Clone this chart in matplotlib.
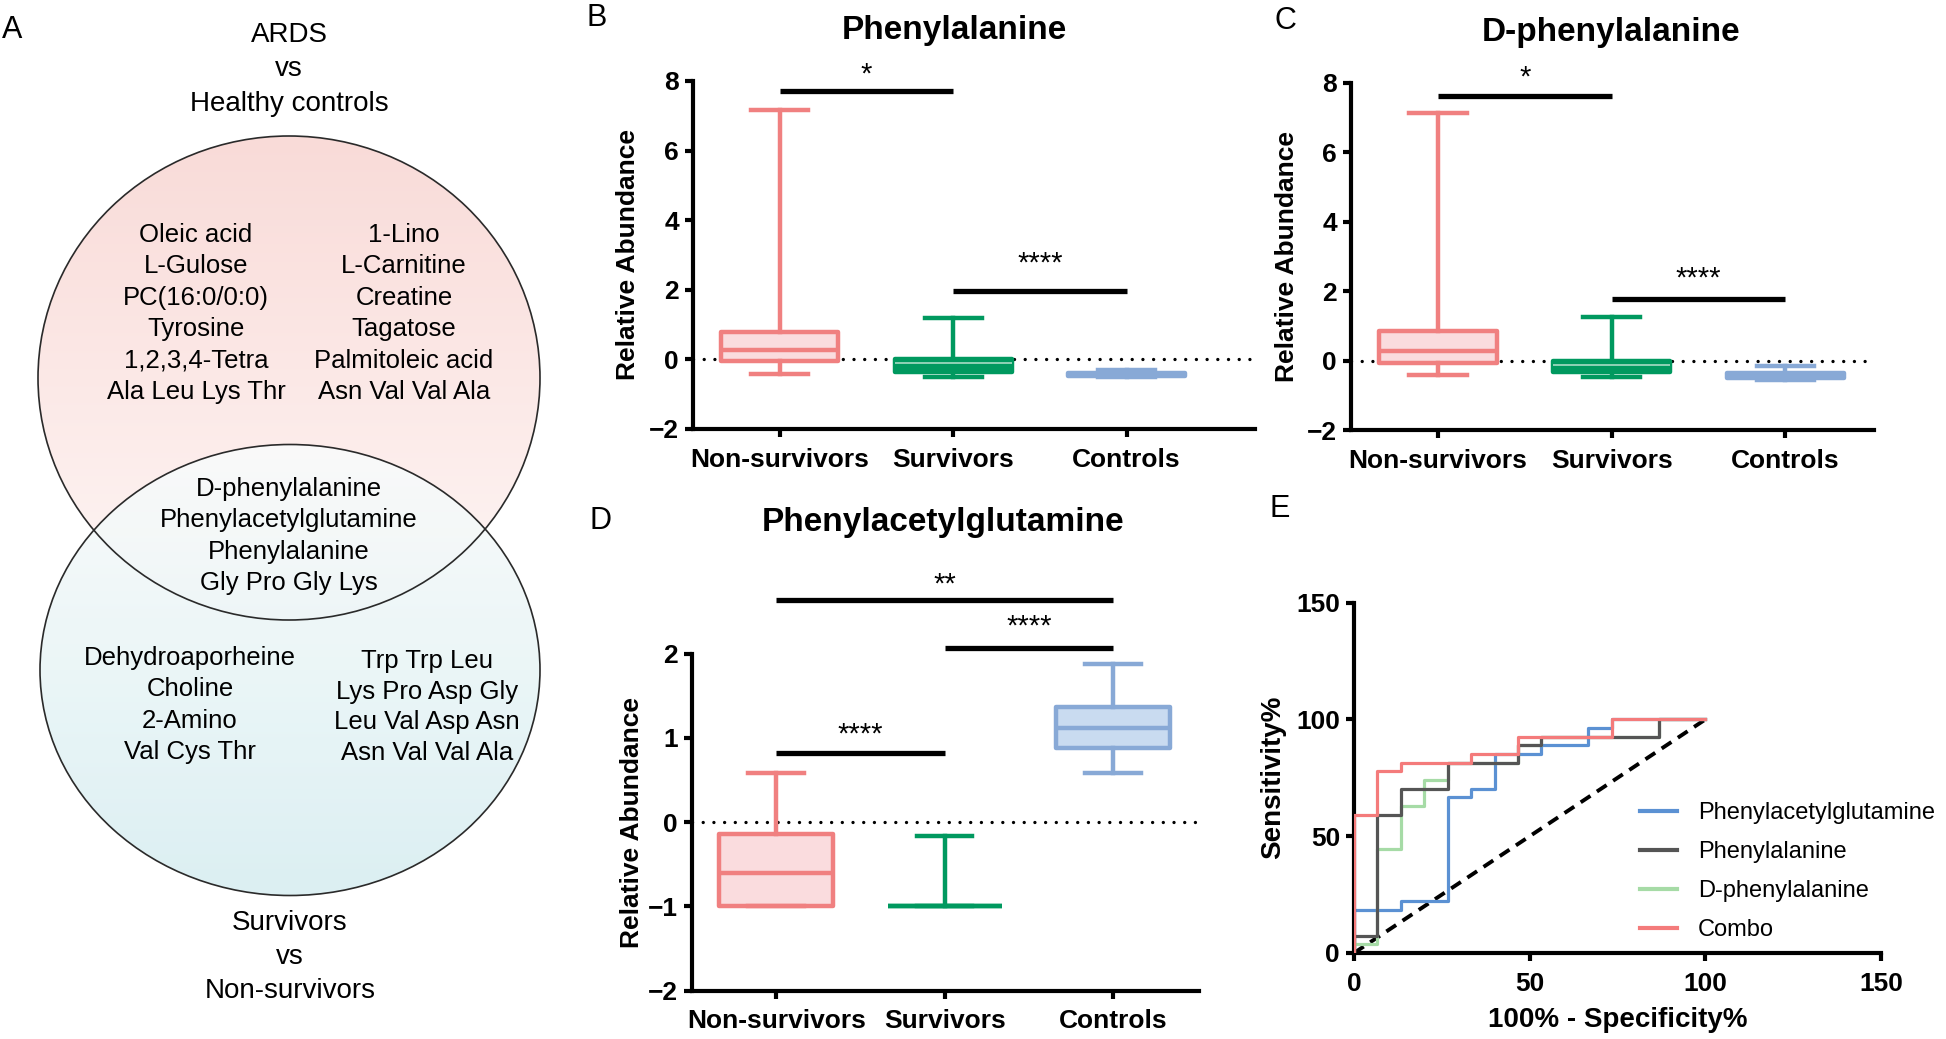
import numpy as np
import matplotlib
matplotlib.use("Agg")
import matplotlib.pyplot as plt
from matplotlib.patches import Ellipse

plt.rcParams['font.family'] = ['Liberation Sans', 'DejaVu Sans']

W, H = 1946, 1039
DPI = 100

# ---------------- data ----------------
groups = ["Non-survivors", "Survivors", "Controls"]

# box stats per group: [whisker low, Q1, median, Q3, whisker high]
phe_nonsurv = [-0.42, -0.06, 0.27, 0.78, 7.17]
phe_surv = [-0.50, -0.36, -0.10, 0.0, 1.18]
phe_ctrl = [-0.52, -0.49, -0.44, -0.38, -0.30]

dphe_nonsurv = [-0.42, -0.07, 0.28, 0.84, 7.13]
dphe_surv = [-0.47, -0.34, -0.14, 0.0, 1.27]
dphe_ctrl = [-0.55, -0.50, -0.44, -0.37, -0.17]

pag_nonsurv = [-1.0, -0.99, -0.60, -0.14, 0.58]
pag_surv = [-1.0, -1.0, -1.0, -1.0, -0.17]
pag_ctrl = [0.58, 0.88, 1.12, 1.36, 1.88]

# significance bars: (group a, group b, bar height, label height, label)
phe_sig = [(0, 1, 7.71, 8.32, "*"), (1, 2, 1.97, 2.9, "****")]
dphe_sig = [(0, 1, 7.63, 8.3, "*"), (1, 2, 1.77, 2.52, "****")]
pag_sig = [(0, 2, 2.64, 2.88, "**"), (1, 2, 2.06, 2.38, "****"), (0, 1, 0.82, 1.1, "****")]

# ROC corner points (100% - specificity %, sensitivity %)
roc_names = ["Phenylacetylglutamine", "Phenylalanine", "D-phenylalanine", "Combo"]
roc_pag_x = [0, 0, 13.33, 26.67, 33.33, 40, 53.33, 66.67, 73.33, 100]
roc_pag_y = [0, 18.5, 22.2, 66.7, 70.4, 85.2, 88.9, 96.3, 100, 100]
roc_phe_x = [0, 0, 6.67, 13.33, 26.67, 46.67, 53.33, 86.67, 100]
roc_phe_y = [0, 7.4, 59.3, 70.4, 81.5, 88.9, 92.6, 100, 100]
roc_dphe_x = [0, 0, 6.67, 13.33, 20, 26.67, 46.67, 53.33, 86.67, 100]
roc_dphe_y = [0, 3.7, 44.4, 63.0, 74.1, 81.5, 88.9, 92.6, 100, 100]
roc_combo_x = [0, 0, 6.67, 13.33, 33.33, 46.67, 73.33, 100]
roc_combo_y = [0, 59.3, 77.8, 81.5, 85.2, 92.6, 100, 100]

# Venn diagram contents
venn_top_title = ["ARDS", "vs", "Healthy controls"]
venn_bottom_title = ["Survivors", "vs", "Non-survivors"]
ards_only_left = ["Oleic acid", "L-Gulose", "PC(16:0/0:0)", "Tyrosine", "1,2,3,4-Tetra", "Ala Leu Lys Thr"]
ards_only_right = ["1-Lino", "L-Carnitine", "Creatine", "Tagatose", "Palmitoleic acid", "Asn Val Val Ala"]
shared = ["D-phenylalanine", "Phenylacetylglutamine", "Phenylalanine", "Gly Pro Gly Lys"]
surv_only_left = ["Dehydroaporheine", "Choline", "2-Amino", "Val Cys Thr"]
surv_only_right = ["Trp Trp Leu", "Lys Pro Asp Gly", "Leu Val Asp Asn", "Asn Val Val Ala"]

# ---------------- style ----------------
EDGE = ["#F08080", "#00995F", "#88A9D6"]
FILL = ["#FADCDE", "#00995F", "#C9DBF0"]
ROC_COLORS = ["#5B91D3", "#555555", "#A6DBA6", "#F47B7B"]
ROC_Z = [2, 4, 3, 5]


def add_ax(left, top, right, bottom):
    # axes placed in pixel coordinates of the full figure
    return fig.add_axes([left / W, 1 - bottom / H, (right - left) / W, (bottom - top) / H])


def ftext(x, y, s, **kw):
    fig.text(x / W, 1 - y / H, s, **kw)


def style_axes(ax):
    for side in ["top", "right"]:
        ax.spines[side].set_visible(False)
    for side in ["left", "bottom"]:
        ax.spines[side].set_linewidth(3)
    ax.tick_params(direction="out", length=6, width=3, labelsize=19, pad=4)
    ax.tick_params(axis="x", pad=7.5)
    for lab in ax.get_xticklabels() + ax.get_yticklabels():
        lab.set_fontweight("bold")


def box_panel(ax, stats_list, sig, xmax, ylim, yticks, light_median=False):
    stats = [dict(whislo=s[0], q1=s[1], med=s[2], q3=s[3], whishi=s[4], label=g)
             for s, g in zip(stats_list, groups)]
    bp = ax.bxp(stats, positions=range(3), widths=0.675, capwidths=0.33,
                showfliers=False, patch_artist=True)
    for i in range(3):
        bp['boxes'][i].set(facecolor=FILL[i], edgecolor=EDGE[i], linewidth=3.2, joinstyle="round")
        bp['medians'][i].set(color=EDGE[i], linewidth=3.2)
        for ln in bp['whiskers'][2 * i:2 * i + 2] + bp['caps'][2 * i:2 * i + 2]:
            ln.set(color=EDGE[i], linewidth=3.2)
    if light_median:
        bp['medians'][1].set(color="#A8DCC4", linewidth=1.2)
    ax.axhline(0, color="black", linestyle=(0, (0.01, 3.2)), linewidth=2.4,
               dash_capstyle="round", zorder=0.5)
    for a, b, y, ty, lab in sig:
        ax.plot([a, b], [y, y], color="black", linewidth=3.8, solid_capstyle="butt", clip_on=False)
        # asterisk glyph centre sits ~13 px above the baseline
        ax.annotate(lab, xy=((a + b) / 2, ty), xytext=(0, -9.4), textcoords="offset points",
                    ha="center", va="baseline", fontsize=21, annotation_clip=False)
    ax.set_xlim(-0.5, xmax)
    ax.set_ylim(*ylim)
    ax.set_yticks(yticks)
    ax.set_xticks(range(3))
    ax.set_xticklabels(groups)
    style_axes(ax)


fig = plt.figure(figsize=(W / DPI, H / DPI), dpi=DPI)

# ---------------- A: Venn ----------------
ax_a = fig.add_axes([0, 0, 1, 1], zorder=-1)
ax_a.axis("off")

top_e = Ellipse((289, 378), 502, 484, facecolor="none", edgecolor="#2a2a2a", linewidth=1.2, zorder=4)
bot_e = Ellipse((290, 670), 500, 451, facecolor="none", edgecolor="#2a2a2a", linewidth=1.2, zorder=4)
ax_a.add_patch(top_e)
ax_a.add_patch(bot_e)

grad = np.linspace(0, 1, 256)[:, None, None]
pink_a = np.array([249, 219, 216]) / 255
pink_b = np.array([254, 246, 245]) / 255
img_top = (pink_a * (1 - grad) + pink_b * grad) * np.ones((1, 2, 3))
im1 = ax_a.imshow(img_top, extent=(38, 540, 620, 136), aspect="auto", zorder=1)
im1.set_clip_path(Ellipse((289, 378), 502, 484, transform=ax_a.transData))

cyan_a = np.array([250, 252, 252]) / 255
cyan_b = np.array([216, 238, 241]) / 255
img_bot = np.ones((256, 2, 4))
img_bot[..., :3] = (cyan_a * (1 - grad) + cyan_b * grad)
img_bot[..., 3] = 0.9
im2 = ax_a.imshow(img_bot, extent=(40, 540, 896, 445), aspect="auto", zorder=2)
im2.set_clip_path(Ellipse((290, 670), 500, 451, transform=ax_a.transData))
ax_a.set_xlim(0, W)
ax_a.set_ylim(H, 0)


def text_column(lines, x, y0, step, size):
    for i, s in enumerate(lines):
        ax_a.text(x, y0 + i * step, s, ha="center", va="center", fontsize=size, zorder=5)


text_column(venn_top_title, 289, 35, 34.5, 20)
text_column(venn_bottom_title, 290, 923, 34, 20)
text_column(ards_only_left, 196, 235, 31.4, 18.5)
text_column(ards_only_right, 404, 235, 31.4, 18.5)
text_column(shared, 289, 489, 31.4, 18.5)
text_column(surv_only_left, 190, 658, 31.4, 18.5)
text_column(surv_only_right, 427, 661, 30.5, 18.5)

# panel letters
for lab, (x, y) in zip("ABCDE", [(12, 30), (597, 18), (1285, 21), (601, 521), (1280, 509)]):
    ftext(x, y, lab, ha="center", va="center", fontsize=22)

# ---------------- B ----------------
ax_b = add_ax(693, 81, 1255, 429)
box_panel(ax_b, [phe_nonsurv, phe_surv, phe_ctrl], phe_sig, 2.74, (-2, 8), [-2, 0, 2, 4, 6, 8], True)
ftext(954, 30, "Phenylalanine", ha="center", va="center", fontsize=24, fontweight="bold")
ftext(628, 255, "Relative Abundance", ha="center", va="center", rotation=90, fontsize=19, fontweight="bold")

# ---------------- C ----------------
ax_c = add_ax(1351, 83, 1874, 430)
box_panel(ax_c, [dphe_nonsurv, dphe_surv, dphe_ctrl], dphe_sig, 2.51, (-2, 8), [-2, 0, 2, 4, 6, 8], True)
ftext(1611, 32, "D-phenylalanine", ha="center", va="center", fontsize=24, fontweight="bold")
ftext(1287, 256, "Relative Abundance", ha="center", va="center", rotation=90, fontsize=19, fontweight="bold")

# ---------------- D ----------------
ax_d = add_ax(692, 653.5, 1199, 990.7)
box_panel(ax_d, [pag_nonsurv, pag_surv, pag_ctrl], pag_sig, 2.51, (-2, 2), [-2, -1, 0, 1, 2])
ftext(943, 523, "Phenylacetylglutamine", ha="center", va="center", fontsize=24, fontweight="bold")
ftext(632, 822, "Relative Abundance", ha="center", va="center", rotation=90, fontsize=19, fontweight="bold")

# ---------------- E: ROC ----------------
ax_e = add_ax(1354, 602.7, 1881, 953)
roc_x = [roc_pag_x, roc_phe_x, roc_dphe_x, roc_combo_x]
roc_y = [roc_pag_y, roc_phe_y, roc_dphe_y, roc_combo_y]
for name, xs, ys, c, z in zip(roc_names, roc_x, roc_y, ROC_COLORS, ROC_Z):
    ax_e.plot(xs, ys, drawstyle="steps-post", color=c, linewidth=2.3, label=name, zorder=z)
ax_e.plot([0, 100], [0, 100], color="black", linestyle=(0, (3, 2)), linewidth=2.8, zorder=1.5)
ax_e.set_xlim(0, 150)
ax_e.set_ylim(0, 150)
ax_e.set_xticks([0, 50, 100, 150])
ax_e.set_yticks([0, 50, 100, 150])
style_axes(ax_e)
ftext(1618, 1020, "100% - Specificity%", ha="center", va="center", fontsize=20, fontweight="bold")
ftext(1273, 777, "Sensitivity%", ha="center", va="center", rotation=90, fontsize=20, fontweight="bold")
leg = ax_e.legend(loc="upper left", bbox_to_anchor=(1640 / W, 1 - 802 / H), bbox_transform=fig.transFigure,
                  frameon=False, borderpad=0, borderaxespad=0, handlelength=1.55, handletextpad=0.9,
                  labelspacing=0.72, fontsize=17)
for h in leg.get_lines():
    h.set_linewidth(3)

fig.savefig("out.png", dpi=DPI)
